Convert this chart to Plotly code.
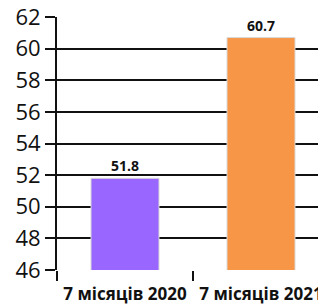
import plotly.graph_objects as go

categories = ["7 місяців 2020", "7 місяців 2021"]
values = [51.8, 60.7]
bar_colors = ["#9966FF", "#F79646"]
y_ticks = [46, 48, 50, 52, 54, 56, 58, 60, 62]

fig = go.Figure()
fig.add_trace(go.Bar(
    x=categories,
    y=values,
    width=0.5,
    marker=dict(color=bar_colors, line=dict(color="#D9D9D9", width=1)),
    text=[f"{v:.1f}" for v in values],
    textposition="outside",
    textfont=dict(family="Open Sans", size=14, color="#111111", weight="bold"),
    cliponaxis=False,
))

fig.update_layout(
    width=318, height=304,
    margin=dict(l=57, r=0, t=17, b=34, autoexpand=False),
    paper_bgcolor="white", plot_bgcolor="white",
    showlegend=False,
    xaxis=dict(
        type="category",
        range=[-0.5, 1.419],
        tickson="boundaries",
        ticks="outside", ticklen=10, tickwidth=2, tickcolor="#111111",
        ticklabelstandoff=12,
        showline=False, showgrid=False,
        tickfont=dict(family="Open Sans", size=17, color="#111111", weight="bold"),
        automargin=False,
    ),
    yaxis=dict(
        range=[46, 62],
        tickvals=y_ticks,
        ticktext=[str(t) for t in y_ticks],
        ticks="outside", ticklen=10, tickwidth=1.5, tickcolor="#111111",
        showline=True, linecolor="#111111", linewidth=2,
        showgrid=True, gridcolor="#111111", gridwidth=1.5,
        zeroline=False,
        tickfont=dict(family="Open Sans", size=22, color="#111111"),
        automargin=False,
    ),
)

fig.write_html(
    "out.html",
    config={"displayModeBar": False},
    post_script="document.body.style.margin='0';document.body.style.overflow='hidden';",
)
